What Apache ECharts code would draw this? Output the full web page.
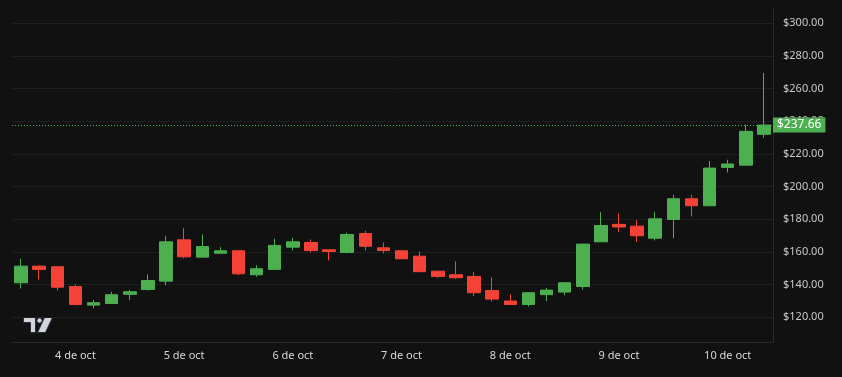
<!DOCTYPE html>
<html>
<head>
<meta charset="utf-8">
<script src="https://cdn.jsdelivr.net/npm/echarts@6/dist/echarts.min.js"></script>
<style>
  html, body { margin: 0; padding: 0; background: #111111; }
  #chart { width: 842px; height: 377px; }
</style>
</head>
<body>
<div id="chart"></div>
<script>
// velas de 4 horas, 3 oct 12:00 -> 10 oct 16:00
var times = [
  '3 de oct 12:00', '3 de oct 16:00', '3 de oct 20:00',
  '4 de oct 00:00', '4 de oct 04:00', '4 de oct 08:00', '4 de oct 12:00', '4 de oct 16:00', '4 de oct 20:00',
  '5 de oct 00:00', '5 de oct 04:00', '5 de oct 08:00', '5 de oct 12:00', '5 de oct 16:00', '5 de oct 20:00',
  '6 de oct 00:00', '6 de oct 04:00', '6 de oct 08:00', '6 de oct 12:00', '6 de oct 16:00', '6 de oct 20:00',
  '7 de oct 00:00', '7 de oct 04:00', '7 de oct 08:00', '7 de oct 12:00', '7 de oct 16:00', '7 de oct 20:00',
  '8 de oct 00:00', '8 de oct 04:00', '8 de oct 08:00', '8 de oct 12:00', '8 de oct 16:00', '8 de oct 20:00',
  '9 de oct 00:00', '9 de oct 04:00', '9 de oct 08:00', '9 de oct 12:00', '9 de oct 16:00', '9 de oct 20:00',
  '10 de oct 00:00', '10 de oct 04:00', '10 de oct 08:00'
];
var opens = [141, 151.2, 150.8, 138.7, 127.3, 128.3, 133.9, 136.9, 142, 167.3,
  156.7, 159.1, 160.6, 145.9, 149.2, 162.8, 165.7, 161.2, 159.6, 171.2,
  162.4, 160.6, 157.3, 148.1, 145.9, 144.9, 136.2, 129.8, 127.7, 133.7,
  135.3, 138.7, 166.1, 176.8, 175.7, 168.3, 179.8, 192.5, 188.2, 211.7,
  213.1, 232];
var closes = [151.2, 149.2, 138.3, 127.7, 128.8, 133.7, 135.5, 142.4, 166.1, 156.9,
  163.2, 160.6, 146.5, 149.6, 163.9, 166.1, 160.8, 160.2, 170.6, 163.4,
  160.8, 155.7, 147.8, 144.9, 144.1, 134.9, 131, 127.7, 134.9, 136.5,
  141, 164.7, 176.1, 175.2, 169.8, 180.2, 192.5, 188.2, 211.3, 213.8,
  233.8, 237.66];
var lows = [137.5, 143, 136.3, 127.2, 125.5, 128, 130.4, 136.3, 139.5, 156,
  156.5, 159, 145.7, 144.7, 149, 160.8, 159.6, 154.7, 159, 160.8,
  159, 155.5, 147.5, 144.1, 143.5, 132.9, 129.5, 127.5, 126.5, 129.8,
  133.3, 136.9, 166, 172.2, 166, 166.9, 168.3, 181.6, 188, 208.6,
  213, 229.9];
var highs = [155.7, 151.4, 151, 140, 130.4, 135.5, 136.5, 146.1, 169.6, 174.5,
  170.6, 162.8, 160.8, 151.8, 168, 168.6, 167.5, 161.2, 171.8, 172.9,
  165.7, 160.8, 160.2, 148.3, 154.1, 147.5, 144.3, 133.9, 135, 137.8,
  141.4, 164.8, 184.3, 183.5, 179.5, 184.3, 194.9, 194.9, 215.6, 216.4,
  237.8, 269.6];
var lastPrice = 237.66;

var upColor = '#4caf50';
var downColor = '#f44336';

var candles = opens.map(function (o, i) {
  return [o, closes[i], lows[i], highs[i]];
});

var chart = echarts.init(document.getElementById('chart'));
chart.setOption({
  backgroundColor: '#111111',
  animation: false,
  grid: {
    left: 12,
    right: 69,
    top: 8,
    bottom: 35
  },
  xAxis: {
    type: 'category',
    data: times,
    boundaryGap: true,
    axisLine: { lineStyle: { color: '#2a2a2a' } },
    axisTick: { show: false },
    splitLine: { show: false },
    axisLabel: {
      color: '#d6d6d6',
      fontFamily: 'Noto Sans',
      fontSize: 11,
      margin: 8,
      interval: function (idx, value) {
        return value.indexOf('00:00') > -1;
      },
      formatter: function (value) {
        return value.split(' ').slice(0, 3).join(' ');
      }
    }
  },
  yAxis: {
    type: 'value',
    position: 'right',
    scale: true,
    min: 104.7,
    max: 309.4,
    minInterval: 20,
    maxInterval: 20,
    splitNumber: 10,
    axisLine: { show: true, lineStyle: { color: '#2a2a2a' } },
    axisTick: { show: false },
    splitLine: {
      show: true,
      showMinLine: false,
      showMaxLine: false,
      lineStyle: { color: '#1f1f1f' }
    },
    axisLabel: {
      color: '#c8c8c8',
      fontFamily: 'Noto Sans',
      fontSize: 11,
      margin: 10,
      showMinLabel: false,
      showMaxLabel: false,
      formatter: function (v) {
        return '$' + v.toFixed(2);
      }
    }
  },
  series: [{
    type: 'candlestick',
    data: candles,
    barWidth: 13,
    itemStyle: {
      color: upColor,
      color0: downColor,
      borderColor: upColor,
      borderColor0: downColor,
      borderWidth: 1
    },
    markLine: {
      symbol: ['none', 'none'],
      silent: true,
      lineStyle: { color: upColor, type: [1, 2], width: 1 },
      label: {
        show: true,
        position: 'end',
        distance: 0,
        color: '#ffffff',
        backgroundColor: upColor,
        padding: [2, 4, 1, 4],
        fontFamily: 'Noto Sans',
        fontSize: 12,
        formatter: function () {
          return '$' + lastPrice.toFixed(2);
        }
      },
      data: [{ yAxis: lastPrice }]
    }
  }],
  graphic: [{
    // logo abajo a la izquierda
    type: 'group',
    left: 23,
    top: 317,
    children: [
      { type: 'polygon', shape: { points: [[0, 0], [12, 0], [12, 15], [7, 15], [7, 5], [0, 5]] },
        style: { fill: '#d1d4dc', stroke: '#2a2e39', lineWidth: 1 } },
      { type: 'circle', shape: { cx: 16, cy: 3, r: 2.6 },
        style: { fill: '#d1d4dc', stroke: '#2a2e39', lineWidth: 1 } },
      { type: 'polygon', shape: { points: [[21, 0], [29, 0], [22, 15], [14, 15]] },
        style: { fill: '#d1d4dc', stroke: '#2a2e39', lineWidth: 1 } }
    ]
  }]
});
</script>
</body>
</html>
